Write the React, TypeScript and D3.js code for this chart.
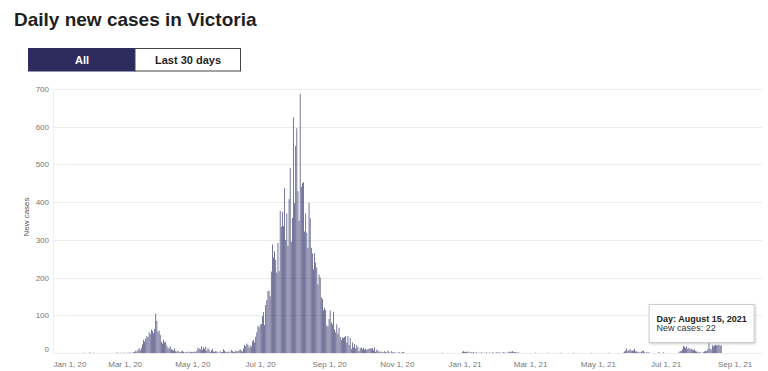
import * as React from 'react';
import * as d3 from 'd3';

const WIDTH = 768;
const HEIGHT = 371;

const LEFT = 53;
const RIGHT = 762;
const TOP = 89;
const BOTTOM = 353;

// daily new cases, one array per month
const jan20 = [0, 0, 0, 0, 0, 0, 0, 0, 0, 0, 0, 0, 0, 0, 0, 0, 0, 0, 0, 0, 0, 0, 0, 0, 1, 0, 0, 0, 1, 1, 0];
const feb20 = [0, 1, 0, 0, 0, 0, 0, 0, 0, 0, 0, 0, 0, 0, 0, 0, 0, 0, 0, 0, 0, 0, 2, 0, 0, 1, 0, 0, 1];
const mar20 = [0, 1, 0, 1, 1, 1, 1, 0, 2, 3, 6, 4, 9, 13, 8, 14, 23, 35, 30, 38, 45, 42, 55, 50, 62, 58, 52, 64, 105, 85, 56];
const apr20 = [60, 48, 30, 25, 35, 28, 30, 20, 14, 12, 18, 10, 8, 6, 12, 5, 4, 6, 3, 2, 4, 6, 3, 1, 2, 3, 1, 4, 2, 3];
const may20 = [3, 1, 4, 2, 6, 14, 12, 10, 18, 8, 15, 11, 17, 6, 13, 9, 3, 7, 11, 4, 3, 5, 4, 2, 1, 5, 2, 3, 10, 6, 4];
const jun20 = [2, 3, 4, 1, 8, 5, 2, 3, 6, 4, 5, 7, 10, 6, 4, 12, 21, 18, 25, 22, 14, 20, 17, 31, 35, 28, 43, 55, 72, 68];
const jul20 = [75, 77, 98, 108, 74, 127, 140, 164, 165, 150, 216, 288, 253, 270, 247, 213, 292, 217, 377, 335, 374, 337, 437, 300, 370, 284, 408, 491, 295, 358, 625];
const aug20 = [397, 549, 596, 429, 351, 687, 441, 450, 453, 322, 370, 319, 278, 398, 357, 279, 264, 222, 265, 240, 227, 182, 208, 200, 148, 143, 113, 120, 114, 73, 70];
const sep20 = [90, 113, 81, 76, 109, 62, 55, 76, 51, 67, 43, 35, 41, 40, 42, 45, 28, 45, 21, 40, 11, 28, 15, 23, 12, 21, 16, 5, 13, 15];
const oct20 = [10, 14, 9, 12, 8, 11, 11, 13, 12, 13, 7, 15, 3, 9, 6, 4, 2, 4, 1, 2, 5, 3, 1, 7, 3, 0, 5, 2, 1, 2, 1];
const nov20 = [0, 1, 3, 1, 0, 3, 2, 1, 0, 0, 0, 0, 0, 0, 0, 0, 0, 0, 0, 0, 0, 0, 0, 0, 0, 0, 0, 0, 0, 0];
const dec20 = [0, 0, 0, 0, 0, 0, 0, 0, 0, 0, 0, 1, 0, 0, 0, 0, 0, 0, 0, 0, 0, 0, 0, 0, 0, 0, 0, 0, 0, 3, 5];
const jan21 = [3, 3, 3, 4, 1, 2, 2, 1, 3, 0, 1, 2, 0, 1, 0, 2, 1, 0, 1, 0, 2, 0, 1, 1, 0, 2, 1, 0, 1, 2, 1];
const feb21 = [2, 1, 0, 1, 2, 1, 1, 0, 2, 3, 4, 3, 5, 2, 2, 3, 1, 2, 1, 0, 0, 0, 0, 0, 0, 0, 0, 0];
const mar21 = [0, 0, 0, 0, 0, 1, 0, 0, 0, 0, 0, 0, 0, 0, 0, 0, 1, 0, 0, 0, 0, 0, 0, 0, 0, 0, 0, 1, 0, 0, 0];
const apr21 = [0, 0, 0, 0, 0, 0, 0, 0, 1, 0, 0, 0, 0, 0, 0, 0, 0, 0, 0, 0, 0, 0, 0, 0, 1, 0, 0, 0, 0, 0];
const may21 = [0, 0, 0, 0, 0, 0, 0, 0, 0, 0, 1, 0, 0, 0, 0, 0, 0, 0, 0, 0, 0, 0, 0, 1, 4, 6, 12, 5, 8, 10, 6];
const jun21 = [6, 7, 11, 4, 5, 3, 2, 2, 4, 5, 6, 2, 0, 3, 1, 2, 0, 0, 0, 0, 0, 0, 0, 1, 2, 1, 0, 0, 2, 0];
const jul21 = [0, 0, 0, 0, 0, 0, 0, 0, 0, 0, 0, 0, 2, 5, 6, 10, 19, 16, 13, 18, 11, 14, 10, 12, 9, 7, 10, 5, 4, 3, 1];
const aug21 = [3, 0, 1, 2, 4, 6, 5, 10, 26, 12, 9, 21, 17, 20, 22, 20, 21, 22, 19, 21];

const months: [number, number, number[]][] = [
  [2020, 0, jan20], [2020, 1, feb20], [2020, 2, mar20], [2020, 3, apr20],
  [2020, 4, may20], [2020, 5, jun20], [2020, 6, jul20], [2020, 7, aug20],
  [2020, 8, sep20], [2020, 9, oct20], [2020, 10, nov20], [2020, 11, dec20],
  [2021, 0, jan21], [2021, 1, feb21], [2021, 2, mar21], [2021, 3, apr21],
  [2021, 4, may21], [2021, 5, jun21], [2021, 6, jul21], [2021, 7, aug21],
];

const xTicks = ['2020-01-01', '2020-03-01', '2020-05-01', '2020-07-01', '2020-09-01', '2020-11-01',
  '2021-01-01', '2021-03-01', '2021-05-01', '2021-07-01', '2021-09-01'];
const yTicks = [0, 100, 200, 300, 400, 500, 600, 700];

const tooltipDay = '2021-08-15';

const parse = (s: string) => {
  const [y, m, d] = s.split('-').map(Number);
  return new Date(y, m - 1, d);
};

const FONT = '"Liberation Sans", Arial, sans-serif';

export default function App() {
  const ref = React.useRef<SVGSVGElement>(null);

  React.useEffect(() => {
    const svg = d3.select(ref.current);
    svg.selectAll('*').remove();

    const data: { date: Date; value: number }[] = [];
    months.forEach(([y, m, vals]) => {
      vals.forEach((v, i) => data.push({ date: new Date(y, m, i + 1), value: v }));
    });

    const x = d3
      .scaleTime()
      .domain([new Date(2019, 11, 27, 12), new Date(2021, 8, 25, 18)])
      .range([LEFT, RIGHT]);
    const y = d3.scaleLinear().domain([0, 700]).range([BOTTOM, TOP]);

    const dayW = x(new Date(2020, 0, 2)) - x(new Date(2020, 0, 1));
    const bw = dayW * 0.62;

    const defs = svg.append('defs');
    const f = defs.append('filter').attr('id', 'shadow').attr('x', '-10%').attr('y', '-10%').attr('width', '130%').attr('height', '140%');
    f.append('feDropShadow').attr('dx', 1).attr('dy', 1).attr('stdDeviation', 1.2).attr('flood-color', '#000').attr('flood-opacity', 0.2);

    // title
    svg.append('text')
      .attr('x', 14).attr('y', 26)
      .attr('font-family', FONT).attr('font-weight', 'bold').attr('font-size', 19)
      .attr('fill', '#1f1f1f')
      .text('Daily new cases in Victoria');

    // buttons
    const btn = svg.append('g').attr('font-family', FONT).attr('font-weight', 'bold').attr('font-size', 11);
    btn.append('rect').attr('x', 28.5).attr('y', 48.5).attr('width', 106.5).attr('height', 22.5)
      .attr('fill', '#2e2b5f').attr('stroke', '#2e2b5f');
    btn.append('rect').attr('x', 135).attr('y', 48.5).attr('width', 105.5).attr('height', 22.5)
      .attr('fill', '#fff').attr('stroke', '#444');
    btn.append('text').attr('x', 82).attr('y', 64).attr('text-anchor', 'middle').attr('fill', '#fff').text('All');
    btn.append('text').attr('x', 188).attr('y', 64).attr('text-anchor', 'middle').attr('fill', '#1f1f1f').text('Last 30 days');

    // grid
    svg.append('g')
      .selectAll('line')
      .data(yTicks)
      .join('line')
      .attr('x1', LEFT).attr('x2', RIGHT)
      .attr('y1', d => Math.round(y(d)) + 0.5).attr('y2', d => Math.round(y(d)) + 0.5)
      .attr('stroke', '#ececec');
    svg.append('line')
      .attr('x1', LEFT + 0.5).attr('x2', LEFT + 0.5).attr('y1', TOP).attr('y2', BOTTOM)
      .attr('stroke', '#f0f0f0');

    // y labels
    svg.append('g')
      .selectAll('text')
      .data(yTicks)
      .join('text')
      .attr('x', 49)
      .attr('y', d => Math.min(y(d), BOTTOM - 4) + 3)
      .attr('text-anchor', 'end')
      .attr('font-family', FONT).attr('font-size', 8).attr('fill', '#777')
      .text(d => d);

    svg.append('text')
      .attr('transform', `translate(29,${(TOP + BOTTOM) / 2 - 4}) rotate(-90)`)
      .attr('text-anchor', 'middle')
      .attr('font-family', FONT).attr('font-size', 8).attr('fill', '#555')
      .text('New cases');

    // x axis
    const fmt = d3.timeFormat('%b %-d, %y');
    const xAxis = d3.axisBottom(x).tickValues(xTicks.map(parse)).tickSize(0).tickFormat(d => fmt(d as Date));
    const gx = svg.append('g').attr('transform', `translate(0,${BOTTOM + 5})`).call(xAxis);
    gx.select('.domain').remove();
    gx.selectAll('text')
      .attr('font-family', FONT).attr('font-size', 8).attr('fill', '#777').attr('dy', '0.71em');
    gx.selectAll<SVGTextElement, Date>('text').each(function (d) {
      const w = this.getComputedTextLength();
      const cx = x(d);
      if (cx - w / 2 < LEFT) d3.select(this).attr('x', LEFT + w / 2 - cx);
    });

    // bars
    svg.append('g')
      .selectAll('rect')
      .data(data.filter(d => d.value > 0))
      .join('rect')
      .attr('x', d => x(d.date) - bw / 2)
      .attr('y', d => y(d.value))
      .attr('width', bw)
      .attr('height', d => BOTTOM - y(d.value))
      .attr('fill', '#3b3970');

    // tooltip
    const td = parse(tooltipDay);
    const tv = data.find(d => +d.date === +td)!;
    const tx = x(td) - 67;
    const ty = 304;
    const tip = svg.append('g');
    tip.append('rect').attr('x', tx + 0.5).attr('y', ty + 0.5).attr('width', 105).attr('height', 38)
      .attr('fill', '#fff').attr('stroke', '#ccc').attr('filter', 'url(#shadow)');
    tip.append('text').attr('x', tx + 8).attr('y', ty + 17.5)
      .attr('font-family', FONT).attr('font-size', 9).attr('font-weight', 'bold').attr('fill', '#222')
      .text(`Day: ${d3.timeFormat('%B %-d, %Y')(td)}`);
    tip.append('text').attr('x', tx + 8).attr('y', ty + 27)
      .attr('font-family', FONT).attr('font-size', 9).attr('fill', '#333')
      .text(`New cases: ${tv.value}`);
  }, []);

  return (
    <svg
      ref={ref}
      width={WIDTH}
      height={HEIGHT}
      style={{ position: 'absolute', left: 0, top: 0, background: '#fff' }}
    />
  );
}
